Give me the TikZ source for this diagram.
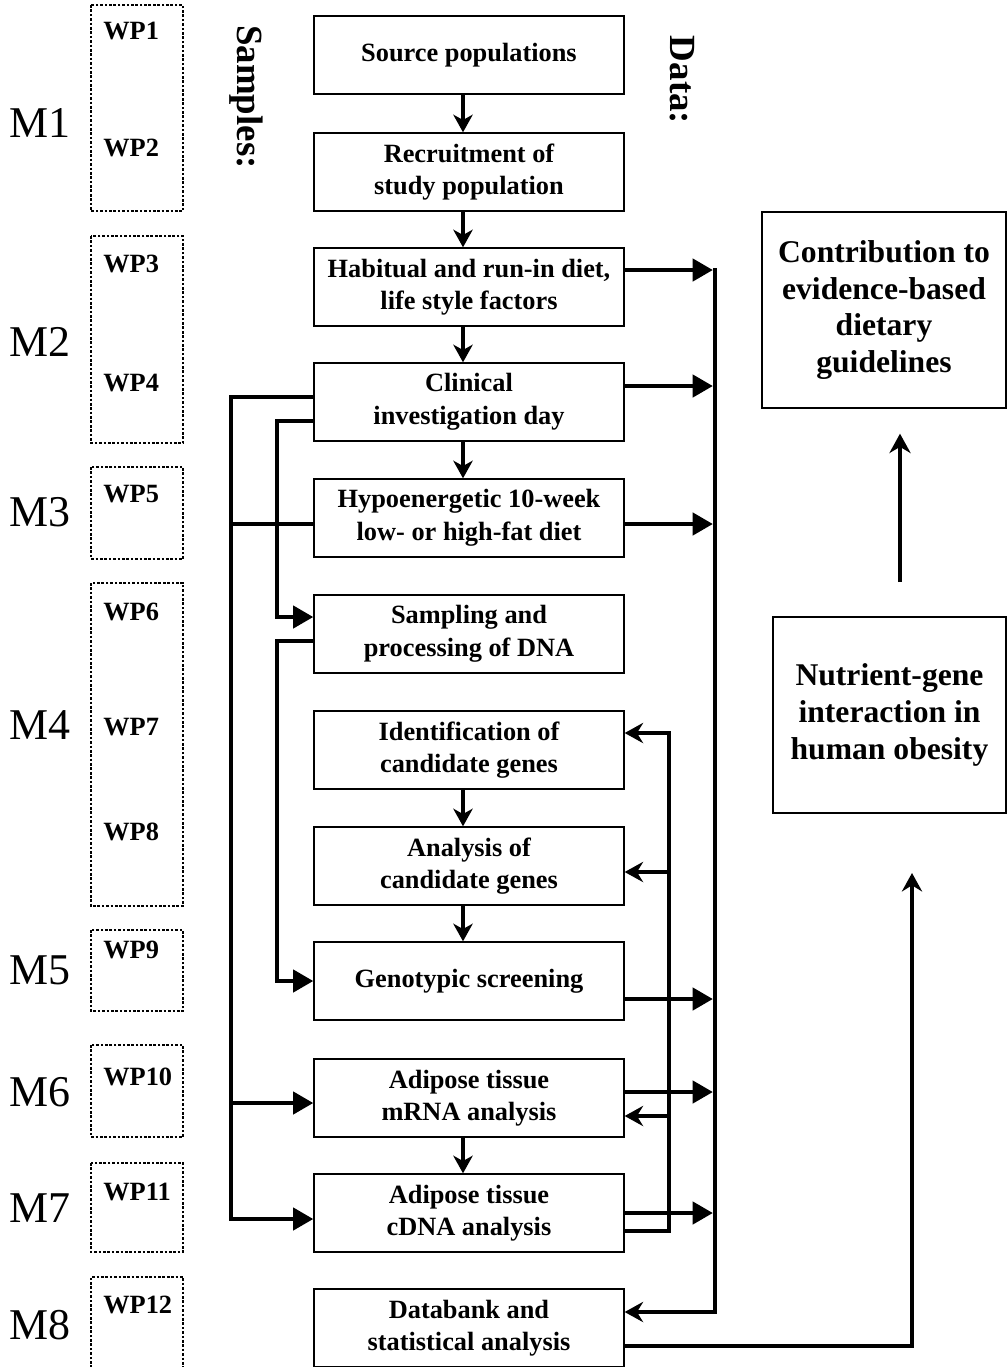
\documentclass[tikz,border=0pt]{standalone}
\usepackage{fontspec}
\setmainfont{Liberation Serif}
\usepackage{tikz}
\usetikzlibrary{arrows.meta}

\begin{document}
\begin{tikzpicture}[x=0.02cm, y=-0.02cm,
    stage/.style={draw, line width=0.8pt, minimum width=6.2cm, minimum height=1.56cm, inner sep=2pt, align=center, font=\fontsize{15}{18.5}\selectfont\bfseries},
    goal/.style={draw, line width=0.8pt, minimum height=3.92cm, align=center, font=\fontsize{18}{21}\selectfont\bfseries},
    wpbox/.style={line width=1.5pt, dash pattern=on 1.5pt off 1pt},
    wplabel/.style={anchor=west, inner sep=0pt, font=\fontsize{15}{18}\selectfont\bfseries},
    mlabel/.style={anchor=west, inner sep=0pt, font=\fontsize{25}{30}\selectfont},
    sidelabel/.style={rotate=-90, inner sep=0pt, font=\fontsize{21}{25}\selectfont\bfseries},
    flow/.style={line width=2.5pt},
    into/.style={flow, -{Triangle[length=11.5pt, width=12.5pt]}},
    tobus/.style={into, shorten >=1.2pt},
    down/.style={flow, -{Stealth[length=10pt, width=11pt, inset=3pt]}},
    back/.style={flow, -{Stealth[length=10.5pt, width=11.5pt, inset=3.5pt]}},
    rise/.style={line width=2pt, -{Stealth[length=11pt, width=12pt, inset=3.5pt]}}]
    \useasboundingbox (0,0) rectangle (1008,1367);

    \node[stage] (source) at (469,55) {Source populations};
    \node[stage] (recruit) at (469,172) {Recruitment of\\study population};
    \node[stage] (habit) at (469,287) {Habitual and run-in diet,\\life style factors};
    \node[stage] (clinic) at (469,402) {Clinical\\investigation day};
    \node[stage] (hypo) at (469,518) {Hypoenergetic 10-week\\low- or high-fat diet};
    \node[stage] (dna) at (469,634) {Sampling and\\processing of DNA};
    \node[stage] (ident) at (469,750) {Identification of\\candidate genes};
    \node[stage] (cand) at (469,866) {Analysis of\\candidate genes};
    \node[stage] (geno) at (469,981) {Genotypic screening};
    \node[stage] (mrna) at (469,1098) {Adipose tissue\\mRNA analysis};
    \node[stage] (cdna) at (469,1213) {Adipose tissue\\cDNA analysis};
    \node[stage] (bank) at (469,1328) {Databank and\\statistical analysis};

    \node[goal, minimum width=4.88cm] (contrib) at (884,310) {Contribution to\\evidence-based\\dietary\\guidelines};
    \node[goal, minimum width=4.66cm] (nutri) at (889.5,715) {Nutrient-gene\\interaction in\\human obesity};

    \node[sidelabel] (samples) at (246,97) {Samples:};
    \node[sidelabel] (data) at (682,80) {Data:};

    \draw[wpbox] (91,5) rectangle (183,211);
    \draw[wpbox] (91,236) rectangle (183,443);
    \draw[wpbox] (91,467) rectangle (183,559);
    \draw[wpbox] (91,583) rectangle (183,906);
    \draw[wpbox] (91,930) rectangle (183,1011);
    \draw[wpbox] (91,1045) rectangle (183,1137);
    \draw[wpbox] (91,1163) rectangle (183,1252);
    \draw[wpbox] (91,1390) -- (91,1277) -- (183,1277) -- (183,1390);

    \node[wplabel] (wp1) at (103,31) {WP1};
    \node[wplabel] (wp2) at (103,148) {WP2};
    \node[wplabel] (wp3) at (103,264) {WP3};
    \node[wplabel] (wp4) at (103,383) {WP4};
    \node[wplabel] (wp5) at (103,494) {WP5};
    \node[wplabel] (wp6) at (103,612) {WP6};
    \node[wplabel] (wp7) at (103,727) {WP7};
    \node[wplabel] (wp8) at (103,832) {WP8};
    \node[wplabel] (wp9) at (103,950) {WP9};
    \node[wplabel] (wp10) at (103,1077) {WP10};
    \node[wplabel] (wp11) at (103,1192) {WP11};
    \node[wplabel] (wp12) at (103,1305) {WP12};

    \node[mlabel] (m1) at (9,123) {M1};
    \node[mlabel] (m2) at (9,342) {M2};
    \node[mlabel] (m3) at (9,512) {M3};
    \node[mlabel] (m4) at (9,725) {M4};
    \node[mlabel] (m5) at (9,970) {M5};
    \node[mlabel] (m6) at (9,1092) {M6};
    \node[mlabel] (m7) at (9,1208) {M7};
    \node[mlabel] (m8) at (9,1325) {M8};

    \draw[down] ([xshift=-0.12cm]source.south) -- ([xshift=-0.12cm]recruit.north);
    \draw[down] ([xshift=-0.12cm]recruit.south) -- ([xshift=-0.12cm]habit.north);
    \draw[down] ([xshift=-0.12cm]habit.south) -- ([xshift=-0.12cm]clinic.north);
    \draw[down] ([xshift=-0.12cm]clinic.south) -- ([xshift=-0.12cm]hypo.north);
    \draw[down] ([xshift=-0.12cm]ident.south) -- ([xshift=-0.12cm]cand.north);
    \draw[down] ([xshift=-0.12cm]cand.south) -- ([xshift=-0.12cm]geno.north);
    \draw[down] ([xshift=-0.12cm]mrna.south) -- ([xshift=-0.12cm]cdna.north);

    \coordinate (leftBus) at (231,0);
    \coordinate (dnaBus) at (277,0);
    \coordinate (fbBus) at (669,0);
    \coordinate (busTop) at (715,268);
    \coordinate (busBot) at (715,1312);
    \coordinate (nutIn) at (912,873);
    \coordinate (goalTail) at (900,582);

    \draw[into] ([yshift=0.1cm]clinic.west) -- ([yshift=0.1cm]clinic.west -| leftBus) |- ([yshift=-0.12cm]cdna.west);
    \draw[flow] ([yshift=-0.12cm]hypo.west) -- ([yshift=-0.12cm]hypo.west -| leftBus);
    \draw[into] ([yshift=-0.1cm]mrna.west -| leftBus) -- ([yshift=-0.1cm]mrna.west);
    \draw[into] ([yshift=-0.38cm]clinic.west) -- ([yshift=-0.38cm]clinic.west -| dnaBus) |- ([yshift=0.34cm]dna.west);
    \draw[into] ([yshift=-0.14cm]dna.west) -- ([yshift=-0.14cm]dna.west -| dnaBus) |- (geno.west);

    \draw[back] ([yshift=-0.36cm]cdna.east) -- ([yshift=-0.36cm]cdna.east -| fbBus) |- ([yshift=0.34cm]ident.east);
    \draw[back] ([yshift=-0.12cm]cand.east -| fbBus) -- ([yshift=-0.12cm]cand.east);
    \draw[back] ([yshift=-0.36cm]mrna.east -| fbBus) -- ([yshift=-0.36cm]mrna.east);

    \draw[back] (busTop) -- (busBot) -- (busBot -| bank.east);
    \draw[tobus] ([yshift=0.34cm]habit.east) -- ([yshift=0.34cm]habit.east -| busTop);
    \draw[tobus] ([yshift=0.32cm]clinic.east) -- ([yshift=0.32cm]clinic.east -| busTop);
    \draw[tobus] ([yshift=-0.12cm]hypo.east) -- ([yshift=-0.12cm]hypo.east -| busTop);
    \draw[tobus] ([yshift=-0.36cm]geno.east) -- ([yshift=-0.36cm]geno.east -| busTop);
    \draw[tobus] ([yshift=0.12cm]mrna.east) -- ([yshift=0.12cm]mrna.east -| busTop);
    \draw[tobus] (cdna.east) -- (cdna.east -| busTop);

    \draw[back] ([yshift=-0.36cm]bank.east) -| (nutIn);
    \draw[rise, shorten >=0.5cm] (goalTail) -- (goalTail |- contrib.south);
\end{tikzpicture}
\end{document}
